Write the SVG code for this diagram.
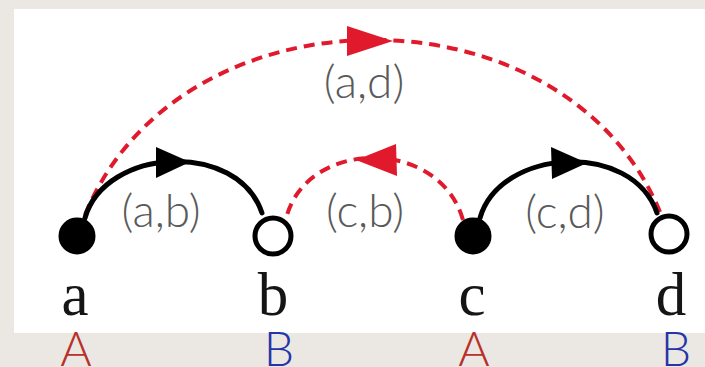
<svg xmlns="http://www.w3.org/2000/svg" width="705" height="367" viewBox="0 0 705 367">
  <style>
    .solid { fill: none; stroke: #000; stroke-width: 5; stroke-linecap: round; }
    .dash { fill: none; stroke: #e01a2c; stroke-width: 4; stroke-dasharray: 11 7; }
    .ahb { fill: #000; }
    .ahr { fill: #e01a2c; }
    .filled { fill: #000; stroke: #000; stroke-width: 2; }
    .open { fill: #fff; stroke: #000; stroke-width: 5; }
    .nlabel { font-family: "Liberation Serif", serif; font-size: 61px; fill: #151515; text-anchor: middle; }
    .elabel { font-family: Lato, "Open Sans", sans-serif; font-weight: 300; font-size: 46px; fill: #5a5a5a; text-anchor: middle; }
    .partA { font-family: Lato, "Open Sans", sans-serif; font-weight: 300; font-size: 48px; fill: #b8302a; text-anchor: middle; }
    .partB { font-family: Lato, "Open Sans", sans-serif; font-weight: 300; font-size: 48px; fill: #2535a8; text-anchor: middle; }
  </style>
  <rect x="0" y="0" width="705" height="367" fill="#ebe8e3"/>
  <rect x="14" y="9" width="691" height="324" fill="#ffffff"/>

  <g id="connectors">
    <g id="edge-a-d">
      <path class="dash" d="M85,215 C180,-18 565,-18 660,212"/>
      <polygon class="ahr" points="347,26 347,56 393,41"/>
      <text class="elabel" x="364" y="98">(a,d)</text>
    </g>
    <g id="edge-a-b">
      <path class="solid" d="M85,218 C105,147 238,140 262,213"/>
      <polygon class="ahb" points="156,147 156,178 190,162"/>
      <text class="elabel" x="161" y="227">(a,b)</text>
    </g>
    <g id="edge-c-b">
      <path class="dash" d="M463,220 C440,138 310,138 287,215"/>
      <polygon class="ahr" points="356,160 396,144 397,176"/>
      <text class="elabel" x="365" y="227">(c,b)</text>
    </g>
    <g id="edge-c-d">
      <path class="solid" d="M480,218 C500,148 632,140 657,213"/>
      <polygon class="ahb" points="551,147 552,179 587,163"/>
      <text class="elabel" x="565" y="228">(c,d)</text>
    </g>
  </g>

  <g id="node-a">
    <circle class="filled" cx="77" cy="236" r="17.5"/>
    <text class="nlabel" x="75" y="315">a</text>
    <text class="partA" x="76" y="366">A</text>
  </g>
  <g id="node-b">
    <circle class="open" cx="273" cy="236" r="18"/>
    <text class="nlabel" x="273" y="315">b</text>
    <text class="partB" x="279" y="366">B</text>
  </g>
  <g id="node-c">
    <circle class="filled" cx="473" cy="236" r="17.5"/>
    <text class="nlabel" x="472" y="315">c</text>
    <text class="partA" x="474" y="366">A</text>
  </g>
  <g id="node-d">
    <circle class="open" cx="669" cy="234" r="18"/>
    <text class="nlabel" x="671" y="315">d</text>
    <text class="partB" x="676" y="366">B</text>
  </g>
</svg>
